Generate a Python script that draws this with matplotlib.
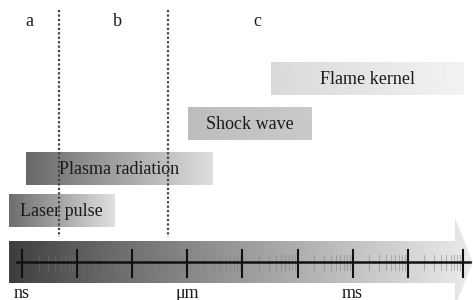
import numpy as np
import matplotlib
matplotlib.use("Agg")
import matplotlib.pyplot as plt
from matplotlib.patches import Polygon

# timeline, seconds (log axis)
decades = [1e-9, 1e-8, 1e-7, 1e-6, 1e-5, 1e-4, 1e-3, 1e-2, 1e-1]
unit_labels = ["ns", "\u03bcm", "ms"]
unit_times = [1e-9, 1e-6, 1e-3]

# phases: start / end times in seconds
phases = ["Laser pulse", "Plasma radiation", "Shock wave", "Flame kernel"]
t_start = [5.8e-10, 1.18e-9, 1.03e-6, 3.3e-5]
t_end = [4.7e-8, 2.9e-6, 1.83e-4, 1.05e-1]
shade_left = [0.43, 0.41, 0.74, 0.85]
shade_right = [0.88, 0.87, 0.79, 0.95]

# region borders a | b | c
borders = [4.7e-9, 4.5e-7]
regions = ["a", "b", "c"]
region_times = [1.34e-9, 5.5e-8, 1.9e-5]

plt.rcParams["font.family"] = ["Liberation Serif", "DejaVu Serif"]

fig = plt.figure(figsize=(4.73, 3.0), dpi=100)
ax = fig.add_axes([0, 0, 1, 1])
ax.set_xlim(-9.40, -0.815)
ax.set_ylim(300, 0)
ax.axis("off")

lx = lambda t: np.log10(t)
ramp = np.linspace(0, 1, 256).reshape(1, -1)

# bars (rows from bottom up)
rows = [(194, 227), (152, 185), (107, 140), (62, 95)]
for name, a, b, c0, c1, (y0, y1) in zip(phases, t_start, t_end, shade_left, shade_right, rows):
    ax.imshow(c0 + (c1 - c0) * ramp, cmap="gray", vmin=0, vmax=1, aspect="auto",
              extent=[lx(a), lx(b), y1, y0], zorder=1)
    cx = (lx(a) + lx(b)) / 2
    ax.text(cx, (y0 + y1) / 2 + 1, name, ha="center", va="center", fontsize=13, color="#1a1a1a", zorder=3)

# arrow body + head with gradient
x_left = lx(decades[0]) - 13 / 55.1
x_head = lx(decades[0]) + 433 / 55.1
x_tip = -0.815
arrow = Polygon([(x_left, 241), (x_head, 241), (x_head, 218), (x_tip, 262),
                 (x_head, 306), (x_head, 283), (x_left, 283)], closed=True,
                facecolor="none", edgecolor="none")
ax.add_patch(arrow)
im = ax.imshow(0.24 + 0.68 * ramp ** 0.9, cmap="gray", vmin=0, vmax=1, aspect="auto",
               extent=[x_left, x_tip, 306, 218], zorder=1)
im.set_clip_path(arrow)

# axis line and ticks
ax.plot([lx(decades[0]) - 5 / 55.1, lx(decades[-1]) + 7 / 55.1], [262, 262], color="#111111", lw=1.8, zorder=4)
for t in decades:
    ax.plot([lx(t), lx(t)], [250, 277], color="#111111", lw=1.5, zorder=4)
for t in decades[:-1]:
    for k in range(2, 10):
        ax.plot([lx(t * k), lx(t * k)], [255, 270], color="#777777", lw=0.8, alpha=0.45, zorder=3)

for lab, t in zip(unit_labels, unit_times):
    ax.text(lx(t), 293, lab, ha="center", va="center", fontsize=13, color="#1a1a1a")

# dotted borders and region letters
for t in borders:
    ax.plot([lx(t), lx(t)], [10, 237], color="#444444", lw=1.6, ls=(0, (1, 1)), zorder=5)
for lab, t in zip(regions, region_times):
    ax.text(lx(t), 21, lab, ha="center", va="center", fontsize=13, color="#1a1a1a")

fig.savefig("out.png", dpi=100)
